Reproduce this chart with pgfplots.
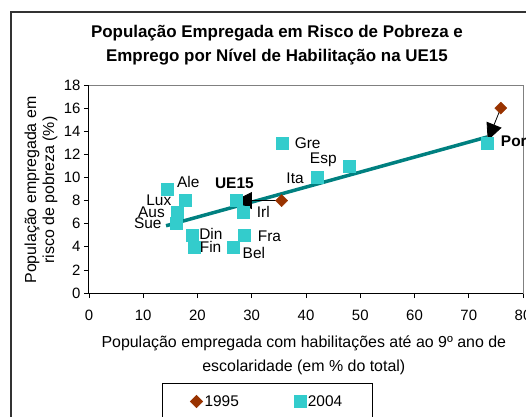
\documentclass[border=0pt]{standalone}
\usepackage{fontspec}
\setmainfont{Liberation Sans}
\usepackage{pgfplots}
\pgfplotsset{compat=1.18}
\usetikzlibrary{arrows.meta}
\definecolor{turq}{RGB}{51,204,204}
\definecolor{brick}{RGB}{153,51,0}
\definecolor{trendteal}{RGB}{0,128,128}
\pgfplotsset{dotlegend/.style={legend image code/.code={\draw[##1] plot coordinates {(0bp,0bp)};}}}

\begin{document}
\begin{tikzpicture}[x=1bp,y=1bp]
% outer chart frame (runs past the right and bottom edge of the picture)
\draw[line width=1.5bp, black!80] (-78,281) rectangle (451,-140);
\begin{axis}[
  scale only axis,
  width=434bp, height=208bp,
  xmin=0, xmax=80, ymin=0, ymax=18,
  xtick={0,10,...,80}, ytick={0,2,...,18},
  tick align=outside, xtick pos=bottom, ytick pos=left,
  major tick length=5bp,
  tick style={black, line width=0.6bp},
  axis line style={draw=gray, line width=1bp},
  ticklabel style={font=\fontsize{15}{15}\selectfont},
  xticklabel style={yshift=-9bp},
  /pgf/number format/assume math mode=true,
  title={População Empregada em Risco de Pobreza e\\Emprego por Nível de Habilitação na UE15},
  title style={align=center, font=\bfseries\fontsize{17}{24}\selectfont,
    at={(0.433,1.165)}, anchor=center},
  xlabel={População empregada com habilitações até ao 9º ano de\\escolaridade (em \% do total)},
  xlabel style={align=center, font=\fontsize{16}{24}\selectfont,
    at={(0.495,-0.298)}, anchor=center},
  ylabel={População empregada em\\risco de pobreza (\%)},
  ylabel style={align=center, font=\fontsize{16}{18}\selectfont,
    at={(-0.1106,0.495)}, anchor=center},
  legend columns=2,
  legend style={draw=black, line width=0.8bp, at={(0.1682,-0.4327)}, anchor=north west,
    font=\fontsize{15.5}{15.5}\selectfont, inner xsep=28bp, inner ysep=10bp,
    /tikz/every even column/.append style={column sep=53bp}},
  legend cell align=left,
  clip=false,
]
\addplot[only marks, mark=square*, mark size=4.3bp, mark options={rotate=45, fill=brick, draw=brick},
  dotlegend]
  coordinates {(35.5,8) (75.9,16)};
\addlegendentry{1995}
\addplot[only marks, mark=square*, mark size=6bp, mark options={fill=turq, draw=turq},
  dotlegend]
  coordinates {
    (14.5,9) (17.7,8) (16.3,7) (16.0,6) (19.0,5) (19.3,4) (26.5,4) (28.6,5)
    (28.5,7) (27.1,8) (35.7,13) (42.0,10) (47.9,11) (73.4,13)
  };
\addlegendentry{2004}
% linear trend of the 2004 points
\addplot[trendteal, line width=3.5bp, forget plot] coordinates {(14.2,5.82) (73.4,13.5)};
% moves from 1995 to 2004
\addplot[black, line width=0.8bp, -{Triangle[length=17bp,width=17bp]}, forget plot]
  coordinates {(35.5,8) (26.9,8)};
\addplot[black, line width=0.8bp, -{Triangle[length=17bp,width=16bp]}, forget plot]
  coordinates {(75.9,16) (73.5,13.2)};
% plot area edges drawn by the axes themselves in black
\draw[black, line width=1bp] (rel axis cs:0,1) -- (rel axis cs:0,0) -- (rel axis cs:1,0);
% country labels
\begin{scope}[font=\fontsize{15.5}{15.5}\selectfont, inner sep=0pt]
\node[anchor=west] at (axis cs:37.9,13.0) {Gre};
\node[anchor=west] at (axis cs:40.7,11.5) {Esp};
\node[anchor=east] at (axis cs:39.6,9.9) {Ita};
\node[anchor=west] at (axis cs:16.2,9.6) {Ale};
\node[anchor=west, font=\bfseries\fontsize{15.5}{15.5}\selectfont] at (axis cs:23.2,9.5) {UE15};
\node[anchor=east] at (axis cs:15.2,8.0) {Lux};
\node[anchor=east] at (axis cs:14.0,7.0) {Aus};
\node[anchor=east] at (axis cs:13.4,6.0) {Sue};
\node[anchor=west] at (axis cs:30.9,7.0) {Irl};
\node[anchor=west] at (axis cs:20.3,5.15) {Din};
\node[anchor=west] at (axis cs:20.4,4.0) {Fin};
\node[anchor=west] at (axis cs:31.1,4.95) {Fra};
\node[anchor=west] at (axis cs:28.3,3.5) {Bel};
\node[anchor=west, font=\bfseries\fontsize{15.5}{15.5}\selectfont] at (axis cs:75.9,13.0) {Portugal};
\end{scope}
\end{axis}
\pgfresetboundingbox
\path[use as bounding box] (-89,-123) rectangle (437,293);
\end{tikzpicture}
\end{document}
